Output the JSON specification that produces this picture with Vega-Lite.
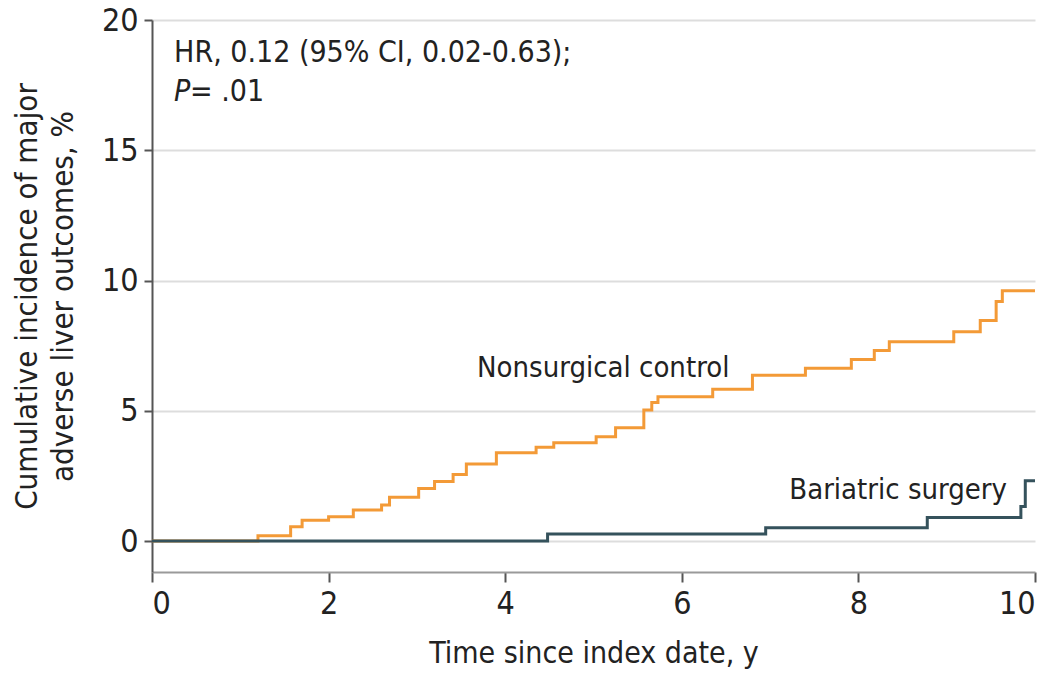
{
  "$schema": "https://vega.github.io/schema/vega-lite/v6.json",
  "autosize": {"type": "none"},
  "width": 883,
  "height": 552,
  "padding": {"left": 152, "top": 20, "right": 20, "bottom": 104},
  "background": "white",
  "config": {
    "font": "Liberation Sans Narrow, DejaVu Sans Condensed, Roboto",
    "view": {"stroke": null}
  },
  "data": {
    "values": [
      {"t": 0, "v": 0, "group": "Nonsurgical control"},
      {"t": 1.2, "v": 0.2, "group": "Nonsurgical control"},
      {"t": 1.57, "v": 0.55, "group": "Nonsurgical control"},
      {"t": 1.7, "v": 0.8, "group": "Nonsurgical control"},
      {"t": 2.0, "v": 0.93, "group": "Nonsurgical control"},
      {"t": 2.28, "v": 1.19, "group": "Nonsurgical control"},
      {"t": 2.6, "v": 1.38, "group": "Nonsurgical control"},
      {"t": 2.69, "v": 1.68, "group": "Nonsurgical control"},
      {"t": 3.02, "v": 2.02, "group": "Nonsurgical control"},
      {"t": 3.2, "v": 2.28, "group": "Nonsurgical control"},
      {"t": 3.41, "v": 2.55, "group": "Nonsurgical control"},
      {"t": 3.56, "v": 2.96, "group": "Nonsurgical control"},
      {"t": 3.9, "v": 3.39, "group": "Nonsurgical control"},
      {"t": 4.35, "v": 3.6, "group": "Nonsurgical control"},
      {"t": 4.55, "v": 3.77, "group": "Nonsurgical control"},
      {"t": 5.03, "v": 4.0, "group": "Nonsurgical control"},
      {"t": 5.25, "v": 4.35, "group": "Nonsurgical control"},
      {"t": 5.57, "v": 5.03, "group": "Nonsurgical control"},
      {"t": 5.66, "v": 5.32, "group": "Nonsurgical control"},
      {"t": 5.73, "v": 5.54, "group": "Nonsurgical control"},
      {"t": 6.35, "v": 5.83, "group": "Nonsurgical control"},
      {"t": 6.8, "v": 6.36, "group": "Nonsurgical control"},
      {"t": 7.4, "v": 6.63, "group": "Nonsurgical control"},
      {"t": 7.92, "v": 6.97, "group": "Nonsurgical control"},
      {"t": 8.18, "v": 7.31, "group": "Nonsurgical control"},
      {"t": 8.35, "v": 7.65, "group": "Nonsurgical control"},
      {"t": 9.08, "v": 8.03, "group": "Nonsurgical control"},
      {"t": 9.38, "v": 8.46, "group": "Nonsurgical control"},
      {"t": 9.56, "v": 9.19, "group": "Nonsurgical control"},
      {"t": 9.63, "v": 9.61, "group": "Nonsurgical control"},
      {"t": 10.0, "v": 9.61, "group": "Nonsurgical control"},
      {"t": 0, "v": 0, "group": "Bariatric surgery"},
      {"t": 4.48, "v": 0.27, "group": "Bariatric surgery"},
      {"t": 6.95, "v": 0.51, "group": "Bariatric surgery"},
      {"t": 8.78, "v": 0.9, "group": "Bariatric surgery"},
      {"t": 9.84, "v": 1.32, "group": "Bariatric surgery"},
      {"t": 9.89, "v": 2.31, "group": "Bariatric surgery"},
      {"t": 10.0, "v": 2.31, "group": "Bariatric surgery"}
    ]
  },
  "layer": [
    {
      "mark": {"type": "line", "interpolate": "step-after", "strokeWidth": 3},
      "encoding": {
        "x": {
          "field": "t", "type": "quantitative",
          "scale": {"domain": [0, 10], "nice": false},
          "axis": {
            "title": "Time since index date, y",
            "values": [0, 2, 4, 6, 8, 10],
            "format": "d",
            "grid": false,
            "domainColor": "#9a9a9a", "domainWidth": 2,
            "tickColor": "#555555", "tickWidth": 2, "tickSize": 10,
            "labelFontSize": 32, "labelColor": "#222222", "labelPadding": 6,
            "titleFontSize": 30, "titleFontWeight": "normal", "titleColor": "#222222", "titlePadding": 19
          }
        },
        "y": {
          "field": "v", "type": "quantitative",
          "scale": {"domain": [-1.19, 20], "nice": false, "zero": false},
          "axis": {
            "title": ["Cumulative incidence of major", "adverse liver outcomes, %"],
            "values": [0, 5, 10, 15, 20],
            "grid": true, "gridColor": "#dddddd", "gridWidth": 2,
            "domainColor": "#555555", "domainWidth": 2,
            "tickColor": "#555555", "tickWidth": 2, "tickSize": 8,
            "labelFontSize": 32, "labelColor": "#222222", "labelPadding": 6,
            "titleFontSize": 31, "titleFontWeight": "normal", "titleColor": "#222222",
            "titleLineHeight": 36, "titlePadding": 22
          }
        },
        "color": {
          "field": "group", "type": "nominal",
          "scale": {"domain": ["Nonsurgical control", "Bariatric surgery"], "range": ["#F39A37", "#35525C"]},
          "legend": null
        },
        "order": {"field": "t", "type": "quantitative"}
      }
    },
    {
      "data": {"values": [{"label": "Nonsurgical control"}]},
      "mark": {"type": "text", "align": "center", "baseline": "middle", "fontSize": 29, "color": "#222222"},
      "encoding": {
        "x": {"datum": 5.11},
        "y": {"datum": 6.65},
        "text": {"field": "label"}
      }
    },
    {
      "data": {"values": [{"label": "Bariatric surgery"}]},
      "mark": {"type": "text", "align": "center", "baseline": "middle", "fontSize": 29, "color": "#222222"},
      "encoding": {
        "x": {"datum": 8.45},
        "y": {"datum": 1.96},
        "text": {"field": "label"}
      }
    },
    {
      "data": {"values": [{"label": "HR, 0.12 (95% CI, 0.02-0.63);"}]},
      "mark": {"type": "text", "align": "left", "baseline": "middle", "fontSize": 30, "color": "#222222"},
      "encoding": {
        "x": {"datum": 0.25},
        "y": {"datum": 18.72},
        "text": {"field": "label"}
      }
    },
    {
      "data": {"values": [{"label": "P"}]},
      "mark": {"type": "text", "align": "left", "baseline": "middle", "fontSize": 30, "fontStyle": "italic", "color": "#222222"},
      "encoding": {
        "x": {"datum": 0.25},
        "y": {"datum": 17.25},
        "text": {"field": "label"}
      }
    },
    {
      "data": {"values": [{"label": "= .01"}]},
      "mark": {"type": "text", "align": "left", "baseline": "middle", "fontSize": 30, "color": "#222222"},
      "encoding": {
        "x": {"datum": 0.43},
        "y": {"datum": 17.25},
        "text": {"field": "label"}
      }
    }
  ]
}
